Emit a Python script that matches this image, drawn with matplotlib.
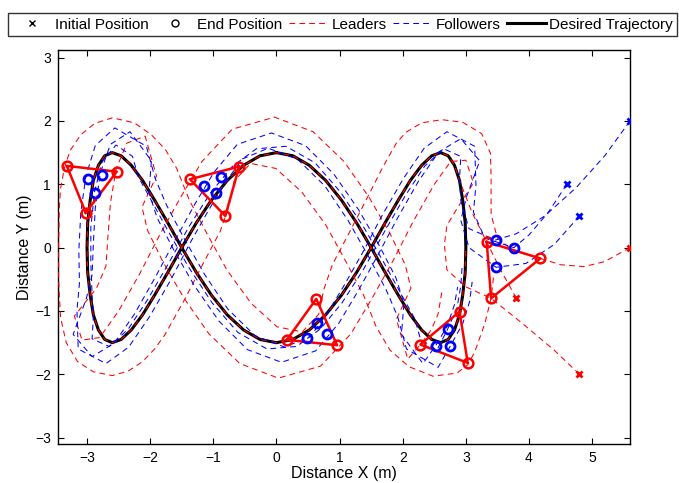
import matplotlib
matplotlib.use("Agg")
import matplotlib.pyplot as plt
from matplotlib.lines import Line2D

plt.rcParams['font.family'] = ['Liberation Sans', 'DejaVu Sans']

# ---------------- data ----------------
desired_x = [0.00, 0.26, 0.52, 0.78, 1.03, 1.27, 1.50, 1.72, 1.93, 2.12, 2.30, 2.46, 2.60, 2.72, 2.82, 2.90, 2.95, 2.99,
             3.00, 2.99, 2.95, 2.90, 2.82, 2.72, 2.60, 2.46, 2.30, 2.12, 1.93, 1.72, 1.50, 1.27, 1.03, 0.78, 0.52, 0.26,
             0.00, -0.26, -0.52, -0.78, -1.03, -1.27, -1.50, -1.72, -1.93, -2.12, -2.30, -2.46, -2.60, -2.72, -2.82, -2.90, -2.95, -2.99,
             -3.00, -2.99, -2.95, -2.90, -2.82, -2.72, -2.60, -2.46, -2.30, -2.12, -1.93, -1.72, -1.50, -1.27, -1.03, -0.78, -0.52, -0.26,
             0.00]
desired_y = [1.50, 1.45, 1.30, 1.06, 0.75, 0.39, 0.00, -0.39, -0.75, -1.06, -1.30, -1.45, -1.50, -1.45, -1.30, -1.06, -0.75, -0.39,
             0.00, 0.39, 0.75, 1.06, 1.30, 1.45, 1.50, 1.45, 1.30, 1.06, 0.75, 0.39, 0.00, -0.39, -0.75, -1.06, -1.30, -1.45,
             -1.50, -1.45, -1.30, -1.06, -0.75, -0.39, 0.00, 0.39, 0.75, 1.06, 1.30, 1.45, 1.50, 1.45, 1.30, 1.06, 0.75, 0.39,
             0.00, -0.39, -0.75, -1.06, -1.30, -1.45, -1.50, -1.45, -1.30, -1.06, -0.75, -0.39, 0.00, 0.39, 0.75, 1.06, 1.30, 1.45,
             1.50]

# front leader: approach, then it rides on the desired trajectory
lead1_approach_x = [3.80, 3.55, 3.33, 3.10]
lead1_approach_y = [-0.80, -0.35, 0.09, 0.55]

# rear-left leader
lead2_x = [4.80, 4.40, 3.90, 3.40, 3.00, 2.70, 2.66,
           2.70, 2.85, 3.12, 3.00, 2.76, 2.50, 2.17, 1.85, 1.52, 1.18, 0.70,
           0.03, -0.58, -1.07, -1.47, -1.80, -2.04, -2.13, -1.90, -2.08, -2.37, -2.54, -2.63,
           -2.67, -2.70, -2.85, -3.20, -3.08, -2.80, -2.50, -2.17, -1.85, -1.52, -1.18, -0.70,
           -0.03, 0.58, 1.07, 1.47, 1.80, 2.04, 2.13, 1.90, 2.08, 2.28, 2.45, 2.56, 2.62]
lead2_y = [-2.00, -1.62, -1.20, -0.80, -0.62, -0.35, 0.05,
           0.35, 0.60, 1.02, 1.38, 1.36, 1.00, 0.42, -0.20, -0.79, -1.36, -1.87,
           -2.06, -1.83, -1.36, -0.79, -0.22, 0.27, 0.64, 1.13, 1.76, 1.65, 1.24, 0.70,
           0.16, -0.29, -0.64, -1.08, -1.46, -1.42, -1.00, -0.42, 0.20, 0.79, 1.36, 1.87,
           2.06, 1.83, 1.36, 0.79, 0.22, -0.27, -0.64, -1.13, -1.76, -1.53, -1.30, -1.05, -0.70]

# rear-right leader
lead3_x = [5.60, 5.20, 4.87, 4.50, 4.18, 3.75, 3.50,
           3.40, 3.40, 3.39, 3.25, 2.95, 2.62, 2.30, 2.05, 1.90, 1.70, 1.45, 1.15, 0.89, 0.75, 0.67,
           0.41, 0.01, -0.40, -0.78, -1.10, -1.38, -1.58, -1.76, -1.98, -2.25, -2.60, -2.88, -3.10, -3.27, -3.36, -3.42, -3.44,
           -3.45, -3.45, -3.42, -3.33, -3.15, -2.90, -2.60, -2.35, -2.12, -1.93, -1.77, -1.45, -1.15, -0.89, -0.75, -0.67,
           -0.41, -0.01, 0.40, 0.78, 1.10, 1.38, 1.58, 1.80, 2.10, 2.48, 2.86, 3.03, 3.14, 3.30, 3.40, 3.44]
lead3_y = [0.00, -0.22, -0.30, -0.27, -0.17, -0.05, 0.15,
           0.52, 1.10, 1.49, 1.80, 1.98, 2.02, 1.97, 1.82, 1.65, 1.30, 0.81, 0.23, -0.26, -0.66, -1.05,
           -1.33, -1.25, -0.88, -0.36, 0.22, 0.75, 1.25, 1.55, 1.78, 1.97, 2.05, 1.96, 1.78, 1.53, 1.25, 0.93, 0.60,
           0.05, -0.52, -1.10, -1.50, -1.80, -1.96, -2.02, -1.95, -1.80, -1.60, -1.38, -0.81, -0.23, 0.26, 0.66, 1.05,
           1.33, 1.25, 0.88, 0.36, -0.22, -0.75, -1.25, -1.62, -1.88, -2.03, -1.98, -1.85, -1.65, -1.20, -0.80, -0.45]

# followers
fol1_x = [4.80, 4.40, 3.95, 3.48, 3.05,
          2.92, 3.01, 3.22, 2.92, 2.57, 2.25, 1.92, 1.60, 1.29, 0.99, 0.62,
          0.08, -0.46, -0.91, -1.30, -1.63, -1.89, -2.02, -1.98, -2.32, -2.63, -2.79, -2.87,
          -2.90, -2.92, -3.01, -3.22, -2.92, -2.57, -2.25, -1.92, -1.60, -1.29, -0.99, -0.62,
          -0.08, 0.46, 0.91, 1.30, 1.63, 1.89, 2.02, 1.98, 2.32, 2.52, 2.70, 2.82, 2.87]
fol1_y = [0.50, 0.05, -0.25, -0.31, 0.00,
          0.43, 0.80, 1.37, 1.72, 1.51, 1.05, 0.47, -0.13, -0.69, -1.19, -1.63,
          -1.81, -1.61, -1.16, -0.60, -0.03, 0.47, 0.87, 1.37, 1.83, 1.63, 1.18, 0.62,
          0.06, -0.43, -0.80, -1.37, -1.72, -1.51, -1.05, -0.47, 0.13, 0.69, 1.19, 1.63,
          1.81, 1.61, 1.16, 0.60, 0.03, -0.47, -0.87, -1.37, -1.83, -1.55, -1.25, -0.90, -0.62]

fol2_x = [5.60, 5.20, 4.75, 4.25, 3.80, 3.47, 3.05,
          2.92, 2.90, 2.92, 2.65, 2.35, 2.04, 1.71, 1.38, 1.04, 0.70, 0.32,
          -0.15, -0.61, -1.02, -1.39, -1.72, -1.99, -2.19, -2.28, -2.54, -2.76, -2.88, -2.94,
          -2.94, -2.92, -2.90, -2.92, -2.65, -2.35, -2.04, -1.71, -1.38, -1.04, -0.70, -0.32,
          0.15, 0.61, 1.02, 1.39, 1.72, 1.99, 2.19, 2.28, 2.54, 2.71, 2.86, 2.92, 2.94]
fol2_y = [2.00, 1.45, 0.95, 0.50, 0.22, 0.12, 0.30,
          0.74, 1.09, 1.44, 1.56, 1.29, 0.82, 0.25, -0.34, -0.87, -1.28, -1.56,
          -1.60, -1.34, -0.87, -0.31, 0.27, 0.76, 1.12, 1.44, 1.62, 1.36, 0.89, 0.32,
          -0.25, -0.74, -1.09, -1.44, -1.56, -1.29, -0.82, -0.25, 0.34, 0.87, 1.28, 1.56,
          1.60, 1.34, 0.87, 0.31, -0.27, -0.76, -1.12, -1.44, -1.62, -1.29, -0.95, -0.60, -0.32]

fol3_x = [4.60, 4.30, 4.00, 3.76, 3.30,
          3.12, 3.16, 3.14, 2.70, 2.34, 2.01, 1.68, 1.37, 1.07, 0.81, 0.54,
          0.13, -0.34, -0.77, -1.14, -1.47, -1.74, -1.92, -2.06, -2.56, -2.87, -3.02, -3.10,
          -3.13, -3.12, -3.16, -3.14, -2.70, -2.34, -2.01, -1.68, -1.37, -1.07, -0.81, -0.54,
          -0.13, 0.34, 0.77, 1.14, 1.47, 1.74, 1.92, 2.06, 2.56, 2.75, 2.95, 3.06, 3.10]
fol3_y = [1.00, 0.55, 0.20, 0.00, 0.15,
          0.56, 0.99, 1.60, 1.83, 1.57, 1.09, 0.52, -0.07, -0.60, -1.03, -1.40,
          -1.57, -1.39, -0.97, -0.42, 0.16, 0.67, 1.09, 1.60, 1.89, 1.61, 1.12, 0.54,
          -0.05, -0.56, -0.99, -1.60, -1.83, -1.57, -1.09, -0.52, 0.07, 0.60, 1.03, 1.40,
          1.57, 1.39, 0.97, 0.42, -0.16, -0.67, -1.09, -1.60, -1.89, -1.56, -1.20, -0.85, -0.54]

# initial positions
leader_start_x = [5.60, 4.80, 3.80]
leader_start_y = [0.00, -2.00, -0.80]
follower_start_x = [5.60, 4.60, 4.80]
follower_start_y = [2.00, 1.00, 0.50]

# formation snapshots (leader triangles and follower positions)
snap_leader_x = [[3.33, 4.18, 3.40], [2.90, 2.28, 3.03], [0.165, 0.96, 0.63],
                 [-3.02, -2.53, -3.32], [-0.59, -1.37, -0.81]]
snap_leader_y = [[0.09, -0.17, -0.80], [-1.01, -1.53, -1.82], [-1.456, -1.54, -0.81],
                 [0.55, 1.20, 1.29], [1.28, 1.08, 0.50]]
snap_follower_x = [[3.47, 3.76, 3.48], [2.52, 2.71, 2.75], [0.48, 0.64, 0.80],
                   [-2.99, -2.76, -2.88], [-1.15, -0.88, -0.95]]
snap_follower_y = [[0.12, 0.00, -0.31], [-1.55, -1.29, -1.56], [-1.42, -1.19, -1.37],
                   [1.09, 1.15, 0.86], [0.98, 1.12, 0.87]]

x_ticks = [-3, -2, -1, 0, 1, 2, 3, 4, 5]
y_ticks = [-3, -2, -1, 0, 1, 2, 3]
legend_labels = ['Initial Position', 'End Position', 'Leaders', 'Followers', 'Desired Trajectory']

# ---------------- drawing ----------------
RED = (1, 0, 0)
BLUE = (0, 0, 1)
DASH = (0, (5.5, 4))

fig = plt.figure(figsize=(6.79, 4.83), dpi=100)
ax = fig.add_axes([58 / 679, 1 - 444 / 483, (630 - 58) / 679, (444 - 50) / 483])

ax.plot(desired_x, desired_y, color='k', lw=2.2, zorder=2, solid_joinstyle='round')

# front leader path: approach + ride along the desired trajectory (one full lap and a bit)
l1x = lead1_approach_x + desired_x[21:72] + desired_x[0:19]
l1y = lead1_approach_y + desired_y[21:72] + desired_y[0:19]
for xs, ys in [(l1x, l1y), (lead2_x, lead2_y), (lead3_x, lead3_y)]:
    ax.plot(xs, ys, color=RED, lw=0.75, linestyle=DASH, zorder=3)
for xs, ys in [(fol1_x, fol1_y), (fol2_x, fol2_y), (fol3_x, fol3_y)]:
    ax.plot(xs, ys, color=BLUE, lw=0.75, linestyle=DASH, zorder=3)

for lx, ly in zip(snap_leader_x, snap_leader_y):
    ax.plot(lx + [lx[0]], ly + [ly[0]], color=RED, lw=1.8, zorder=4)
    ax.plot(lx, ly, 'o', color=RED, ms=7, mew=1.8, mfc='none', zorder=5)
for fx, fy in zip(snap_follower_x, snap_follower_y):
    ax.plot(fx, fy, 'o', color=BLUE, ms=6.5, mew=2, mfc='none', zorder=5)

ax.plot(leader_start_x, leader_start_y, 'x', color=RED, ms=4.5, mew=2, zorder=5)
ax.plot(follower_start_x, follower_start_y, 'x', color=BLUE, ms=4.5, mew=2, zorder=5)

ax.set_xlim(-3.46, 5.6)
ax.set_ylim(-3.1, 3.12)
ax.set_xticks(x_ticks)
ax.set_yticks(y_ticks)
ax.tick_params(direction='in', length=4, width=0.8, top=True, right=True, labelsize=10, pad=5)
for s in ax.spines.values():
    s.set_linewidth(1.0)
ax.set_xlabel('Distance X (m)', fontsize=11.5, labelpad=1)
ax.set_ylabel('Distance Y (m)', fontsize=11.5, labelpad=2)

handles = [
    Line2D([], [], color='k', marker='x', ls='none', ms=4.5, mew=1),
    Line2D([], [], color='k', marker='o', ls='none', ms=5, mew=1, mfc='none'),
    Line2D([], [], color=RED, lw=0.75, linestyle=DASH),
    Line2D([], [], color=BLUE, lw=0.75, linestyle=DASH),
    Line2D([], [], color='k', lw=2.2),
]
leg = fig.legend(handles, legend_labels, loc='upper left', bbox_to_anchor=(8 / 679, 1 - 13 / 483),
                 ncol=5, fontsize=11, frameon=True, fancybox=False, borderpad=0.3,
                 handlelength=2.55, handletextpad=0.2, columnspacing=0.45, borderaxespad=0)
leg.get_frame().set_edgecolor('k')
leg.get_frame().set_linewidth(1.0)

fig.savefig('out.png', dpi=100)
